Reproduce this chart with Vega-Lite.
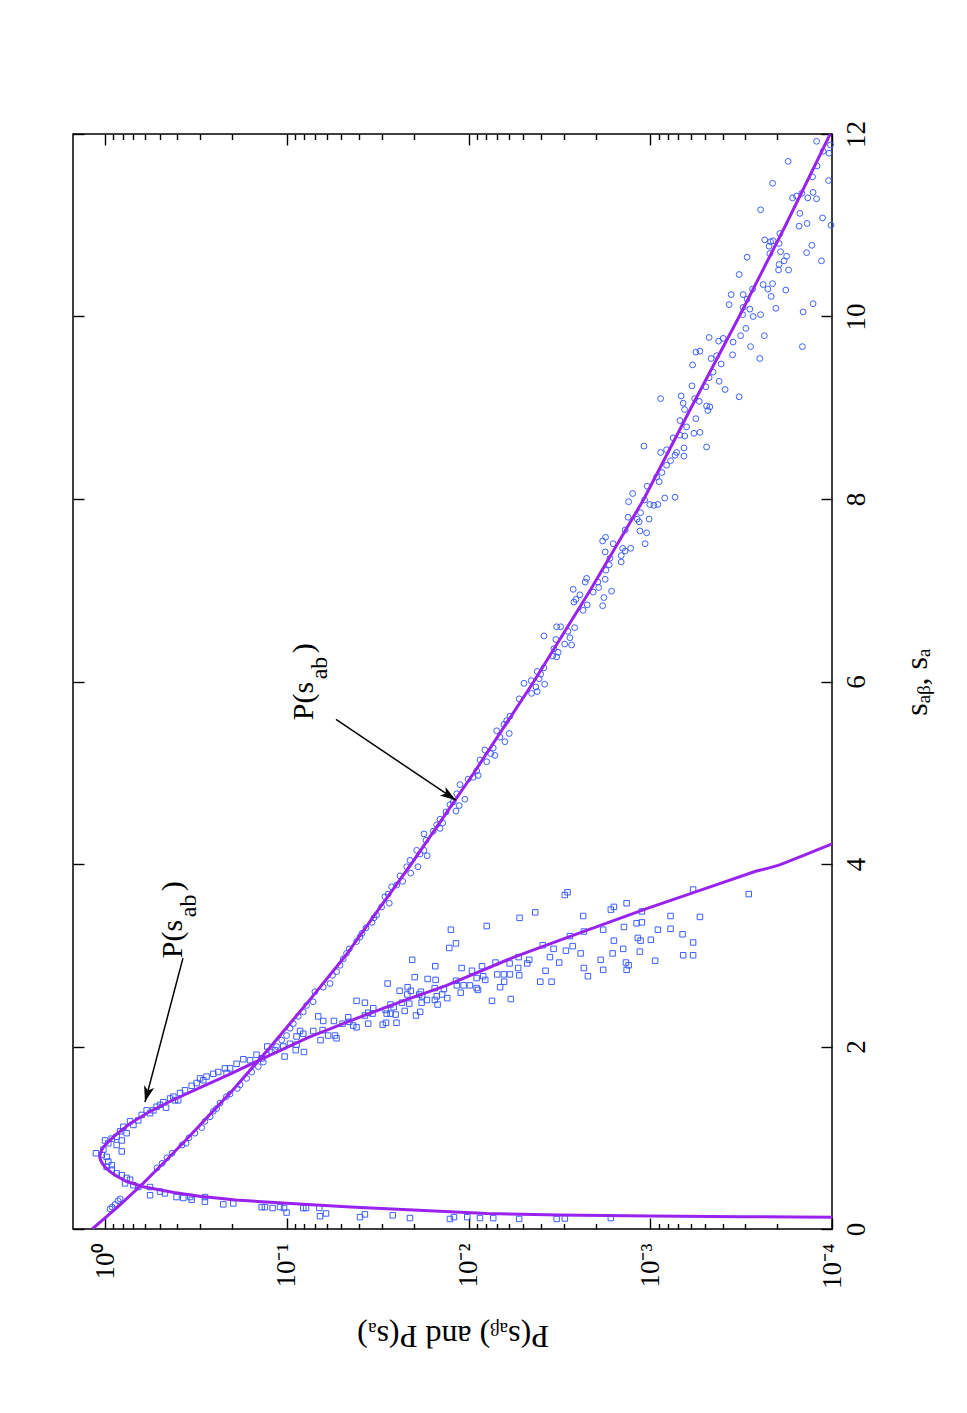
{
"$schema":"https://vega.github.io/schema/vega-lite/v6.json",
"width":759,"height":1095,
"autosize":{"type":"none"},
"padding":{"left":73,"top":134,"right":135,"bottom":184},
"background":"white",
"config":{"view":{"stroke":"black","strokeWidth":1.5},"font":"Liberation Serif",
 "axis":{"grid":false,"domain":false,"tickColor":"black","tickWidth":1.4,"labelColor":"black","titleColor":"black","labelFont":"Liberation Serif","titleFont":"Liberation Serif","labelFontSize":27,"titleFontSize":32,"titleFontWeight":"normal"}},
"datasets":{
"circles":[
{"s":11.92,"P":1.216e-4},{"s":11.88,"P":1.019e-4},{"s":11.81,"P":1.119e-4},{"s":11.79,"P":1.038e-4},{"s":11.70,"P":1.742e-4},{"s":11.65,"P":1.208e-4},{"s":11.53,"P":1.28e-4},{"s":11.49,"P":1.045e-4},{"s":11.46,"P":2.123e-4},{"s":11.30,"P":1.648e-4},{"s":11.32,"P":1.567e-4},{"s":11.35,"P":1.466e-4},{"s":11.30,"P":1.359e-4},{"s":11.36,"P":1.271e-4},{"s":11.29,"P":1.216e-4},{"s":11.17,"P":2.472e-4},{"s":11.13,"P":1.503e-4},{"s":11.08,"P":1.127e-4},{"s":10.99,"P":1.517e-4},{"s":11.02,"P":1.371e-4},{"s":11.00,"P":1.012e-4},{"s":10.91,"P":1.936e-4},{"s":10.84,"P":2.344e-4},{"s":10.82,"P":2.178e-4},{"s":10.83,"P":2.109e-4},{"s":10.80,"P":1.954e-4},{"s":10.77,"P":2.218e-4},{"s":10.78,"P":1.291e-4},{"s":10.71,"P":1.919e-4},{"s":10.70,"P":1.380e-4},{"s":10.69,"P":2.198e-4},{"s":10.65,"P":2.931e-4},{"s":10.66,"P":1.778e-4},{"s":10.61,"P":1.832e-4},{"s":10.61,"P":1.143e-4},{"s":10.57,"P":1.954e-4},{"s":10.51,"P":1.968e-4},{"s":10.51,"P":1.734e-4},{"s":10.46,"P":3.243e-4},{"s":10.35,"P":2.393e-4},{"s":10.36,"P":2.123e-4},{"s":10.30,"P":2.254e-4},{"s":10.29,"P":1.795e-4},{"s":10.30,"P":2.735e-4},{"s":10.24,"P":3.589e-4},{"s":10.24,"P":3.083e-4},{"s":10.22,"P":2.163e-4},{"s":10.13,"P":3.681e-4},{"s":10.19,"P":2.931e-4},{"s":10.10,"P":3.083e-4},{"s":10.08,"P":2.831e-4},{"s":10.14,"P":1.271e-4},{"s":10.09,"P":2.037e-4},{"s":10.02,"P":3.105e-4},{"s":10.00,"P":2.716e-4},{"s":10.02,"P":2.472e-4},{"s":10.05,"P":1.442e-4},{"s":9.87,"P":2.979e-4},{"s":9.77,"P":4.742e-4},{"s":9.73,"P":4.207e-4},{"s":9.76,"P":3.972e-4},{"s":9.79,"P":3.184e-4},{"s":9.79,"P":2.355e-4},{"s":9.72,"P":3.5e-4},{"s":9.67,"P":2.805e-4},{"s":9.67,"P":1.455e-4},{"s":9.61,"P":5.61e-4},{"s":9.62,"P":5.33e-4},{"s":9.57,"P":4.315e-4},{"s":9.58,"P":3.524e-4},{"s":9.54,"P":4.624e-4},{"s":9.54,"P":2.495e-4},{"s":9.47,"P":5.85e-4},{"s":9.48,"P":4.074e-4},{"s":9.39,"P":4.508e-4},{"s":9.33,"P":4.742e-4},{"s":9.29,"P":4.178e-4},{"s":9.24,"P":5.90e-4},{"s":9.23,"P":4.943e-4},{"s":9.20,"P":3.873e-4},{"s":9.10,"P":8.77e-4},{"s":9.13,"P":6.76e-4},{"s":9.10,"P":5.70e-4},{"s":9.12,"P":3.243e-4},{"s":9.05,"P":6.59e-4},{"s":9.07,"P":5.38e-4},{"s":9.02,"P":4.898e-4},{"s":9.01,"P":4.70e-4},{"s":8.98,"P":6.47e-4},{"s":8.97,"P":4.82e-4},{"s":8.86,"P":6.87e-4},{"s":8.88,"P":5.61e-4},{"s":8.79,"P":6.31e-4},{"s":8.70,"P":6.87e-4},{"s":8.69,"P":6.46e-4},{"s":8.72,"P":5.75e-4},{"s":8.73,"P":5.33e-4},{"s":8.67,"P":7.48e-4},{"s":8.58,"P":1.084e-3},{"s":8.56,"P":6.52e-4},{"s":8.57,"P":4.898e-4},{"s":8.54,"P":8.13e-4},{"s":8.51,"P":8.77e-4},{"s":8.51,"P":7.16e-4},{"s":8.48,"P":7.30e-4},{"s":8.47,"P":6.53e-4},{"s":8.42,"P":7.73e-4},{"s":8.37,"P":8.13e-4},{"s":8.29,"P":8.63e-4},{"s":8.24,"P":9.23e-4},{"s":8.19,"P":8.93e-4},{"s":8.14,"P":1.04e-3},{"s":8.06,"P":1.25e-3},{"s":7.97,"P":1.315e-3},{"s":7.99,"P":1.074e-3},{"s":8.01,"P":8.32e-4},{"s":8.02,"P":7.30e-4},{"s":7.94,"P":1.005e-3},{"s":7.93,"P":9.55e-4},{"s":7.94,"P":9.08e-4},{"s":7.85,"P":1.13e-3},{"s":7.80,"P":1.324e-3},{"s":7.78,"P":1.18e-3},{"s":7.78,"P":1.014e-3},{"s":7.75,"P":1.151e-3},{"s":7.66,"P":1.374e-3},{"s":7.65,"P":1.14e-3},{"s":7.63,"P":1.047e-3},{"s":7.54,"P":1.828e-3},{"s":7.58,"P":1.762e-3},{"s":7.51,"P":1.60e-3},{"s":7.51,"P":1.067e-3},{"s":7.46,"P":1.419e-3},{"s":7.46,"P":1.282e-3},{"s":7.42,"P":1.77e-3},{"s":7.43,"P":1.374e-3},{"s":7.38,"P":1.445e-3},{"s":7.35,"P":1.667e-3},{"s":7.31,"P":1.445e-3},{"s":7.28,"P":1.683e-3},{"s":7.22,"P":1.754e-3},{"s":7.12,"P":1.77e-3},{"s":7.13,"P":2.239e-3},{"s":7.09,"P":2.28e-3},{"s":7.09,"P":1.941e-3},{"s":7.03,"P":1.923e-3},{"s":7.01,"P":2.655e-3},{"s":6.95,"P":2.438e-3},{"s":6.98,"P":2.061e-3},{"s":6.99,"P":1.633e-3},{"s":6.92,"P":1.80e-3},{"s":6.90,"P":2.564e-3},{"s":6.87,"P":2.63e-3},{"s":6.84,"P":2.223e-3},{"s":6.78,"P":2.339e-3},{"s":6.83,"P":1.828e-3},{"s":6.60,"P":3.273e-3},{"s":6.60,"P":3.112e-3},{"s":6.59,"P":2.606e-3},{"s":6.55,"P":2.838e-3},{"s":6.50,"P":3.846e-3},{"s":6.46,"P":3.304e-3},{"s":6.48,"P":2.767e-3},{"s":6.41,"P":2.958e-3},{"s":6.40,"P":2.71e-3},{"s":6.36,"P":3.388e-3},{"s":6.32,"P":3.213e-3},{"s":6.28,"P":3.443e-3},{"s":6.27,"P":3.273e-3},{"s":6.15,"P":3.846e-3},{"s":6.11,"P":4.188e-3},{"s":6.08,"P":4.009e-3},{"s":6.03,"P":4.083e-3},{"s":5.98,"P":4.955e-3},{"s":6.01,"P":4.519e-3},{"s":5.94,"P":4.256e-3},{"s":5.97,"P":3.811e-3},{"s":5.89,"P":4.188e-3},{"s":5.87,"P":4.498e-3},{"s":5.81,"P":5.26e-3},{"s":5.62,"P":5.916e-3},{"s":5.57,"P":6.166e-3},{"s":5.53,"P":6.383e-3},{"s":5.43,"P":5.97e-3},{"s":5.46,"P":7.0e-3},{"s":5.39,"P":6.714e-3},{"s":5.34,"P":6.31e-3},{"s":5.27,"P":7.31e-3},{"s":5.25,"P":8.13e-3},{"s":5.21,"P":7.55e-3},{"s":5.19,"P":7.16e-3},{"s":5.14,"P":8.65e-3},{"s":5.12,"P":7.94e-3},{"s":5.02,"P":9.02e-3},{"s":4.95,"P":9.42e-3},{"s":4.93,"P":1.005e-2},{"s":4.97,"P":8.85e-3},{"s":4.87,"P":1.114e-2},{"s":4.71,"P":1.047e-2},{"s":4.77,"P":1.161e-2},{"s":4.68,"P":1.213e-2},{"s":4.64,"P":1.125e-2},{"s":4.65,"P":1.265e-2},{"s":4.58,"P":1.172e-2},{"s":4.57,"P":1.33e-2},{"s":4.49,"P":1.435e-2},{"s":4.45,"P":1.387e-2},{"s":4.43,"P":1.496e-2},{"s":4.36,"P":1.563e-2},{"s":4.33,"P":1.758e-2},{"s":4.39,"P":1.435e-2},{"s":4.26,"P":1.714e-2},{"s":4.15,"P":1.928e-2},{"s":4.15,"P":1.758e-2},{"s":4.11,"P":1.849e-2},{"s":4.09,"P":1.687e-2},{"s":4.04,"P":2.099e-2},{"s":3.97,"P":1.897e-2},{"s":3.97,"P":2.188e-2},{"s":3.87,"P":2.382e-2},{"s":3.90,"P":2.080e-2},{"s":3.81,"P":2.301e-2},{"s":3.75,"P":2.649e-2},{"s":3.77,"P":2.483e-2},{"s":3.67,"P":2.767e-2},{"s":3.64,"P":2.884e-2},{"s":3.57,"P":2.729e-2},{"s":3.53,"P":3.006e-2},{"s":3.44,"P":3.206e-2},{"s":3.41,"P":3.311e-2},{"s":3.36,"P":3.396e-2},{"s":3.30,"P":3.664e-2},{"s":3.24,"P":3.855e-2},{"s":3.20,"P":3.954e-2},{"s":3.15,"P":4.13e-2},{"s":3.07,"P":4.53e-2},{"s":3.02,"P":4.69e-2},{"s":2.96,"P":4.89e-2},{"s":2.89,"P":5.09e-2},{"s":2.82,"P":5.32e-2},{"s":2.78,"P":5.60e-2},{"s":2.69,"P":5.78e-2},{"s":2.65,"P":6.30e-2},{"s":2.60,"P":7.0e-2},{"s":2.49,"P":7.15e-2},{"s":2.45,"P":7.78e-2},{"s":2.38,"P":8.11e-2},{"s":2.33,"P":8.65e-2},{"s":2.25,"P":9.20e-2},{"s":2.20,"P":9.60e-2},{"s":2.12,"P":0.1002},{"s":2.07,"P":0.1067},{"s":2.00,"P":0.1138},{"s":1.94,"P":0.1211},{"s":1.91,"P":0.1291},{"s":1.83,"P":0.1346},{"s":1.78,"P":0.1435},{"s":1.72,"P":0.156},{"s":1.65,"P":0.1663},{"s":1.58,"P":0.1807},{"s":1.54,"P":0.1871},{"s":1.48,"P":0.205},{"s":1.45,"P":0.215},{"s":1.38,"P":0.2328},{"s":1.32,"P":0.2432},{"s":1.29,"P":0.2535},{"s":1.23,"P":0.2642},{"s":1.18,"P":0.2818},{"s":1.11,"P":0.2938},{"s":1.05,"P":0.32},{"s":1.0,"P":0.345},{"s":0.94,"P":0.3581},{"s":0.92,"P":0.3767},{"s":0.83,"P":0.4276},{"s":0.78,"P":0.456},{"s":0.72,"P":0.4853},{"s":0.67,"P":0.5176},{"s":0.33,"P":0.826},{"s":0.31,"P":0.847},{"s":0.27,"P":0.881},{"s":0.24,"P":0.914},{"s":0.22,"P":0.938}
],
"squares":[
{"s":3.66,"P":2.951e-3},{"s":3.69,"P":2.851e-3},{"s":3.72,"P":5.81e-4},{"s":3.67,"P":2.871e-4},{"s":3.47,"P":4.295e-3},{"s":3.41,"P":5.236e-3},{"s":3.32,"P":7.94e-3},{"s":3.28,"P":1.25e-2},{"s":3.50,"P":1.648e-3},{"s":3.53,"P":1.585e-3},{"s":3.57,"P":1.349e-3},{"s":3.43,"P":2.339e-3},{"s":3.48,"P":1.112e-3},{"s":3.43,"P":7.73e-4},{"s":3.42,"P":5.33e-4},{"s":3.35,"P":1.189e-3},{"s":3.36,"P":1.112e-3},{"s":3.31,"P":1.396e-3},{"s":3.28,"P":9.08e-4},{"s":3.29,"P":7.73e-4},{"s":3.26,"P":2.317e-3},{"s":3.28,"P":1.816e-3},{"s":3.23,"P":6.64e-4},{"s":3.21,"P":2.767e-3},{"s":3.13,"P":1.172e-2},{"s":3.08,"P":1.276e-2},{"s":3.11,"P":3.908e-3},{"s":3.07,"P":3.404e-3},{"s":3.10,"P":2.673e-3},{"s":3.05,"P":2.911e-3},{"s":3.16,"P":1.585e-3},{"s":3.19,"P":1.17e-3},{"s":3.16,"P":1.13e-3},{"s":3.17,"P":9.93e-4},{"s":3.14,"P":5.81e-4},{"s":3.07,"P":1.409e-3},{"s":3.04,"P":1.14e-3},{"s":3.02,"P":2.415e-3},{"s":3.02,"P":1.611e-3},{"s":3.00,"P":6.59e-4},{"s":3.00,"P":5.81e-4},{"s":2.98,"P":3.565e-3},{"s":2.98,"P":5.30e-3},{"s":2.95,"P":4.634e-3},{"s":2.95,"P":2.042e-2},{"s":2.92,"P":3.17e-3},{"s":2.95,"P":1.875e-3},{"s":2.94,"P":9.40e-4},{"s":2.92,"P":1.361e-3},{"s":2.89,"P":1.315e-3},{"s":2.92,"P":7.10e-3},{"s":2.91,"P":5.94e-3},{"s":2.91,"P":4.753e-3},{"s":2.88,"P":1.524e-2},{"s":2.86,"P":1.091e-2},{"s":2.83,"P":9.57e-3},{"s":2.88,"P":8.43e-3},{"s":2.86,"P":5.33e-3},{"s":2.86,"P":2.317e-3},{"s":2.84,"P":1.816e-3},{"s":2.84,"P":1.349e-3},{"s":2.83,"P":3.767e-3},{"s":2.76,"P":1.977e-2},{"s":2.74,"P":1.679e-2},{"s":2.73,"P":1.517e-2},{"s":2.79,"P":6.95e-3},{"s":2.79,"P":6.383e-3},{"s":2.79,"P":5.916e-3},{"s":2.78,"P":5.26e-3},{"s":2.77,"P":8.30e-3},{"s":2.75,"P":9.02e-3},{"s":2.73,"P":8.09e-3},{"s":2.77,"P":2.203e-3},{"s":2.71,"P":4.027e-3},{"s":2.71,"P":3.491e-3},{"s":2.72,"P":1.172e-2},{"s":2.71,"P":6.368e-3},{"s":2.69,"P":2.786e-2},{"s":2.67,"P":1.064e-2},{"s":2.67,"P":9.82e-3},{"s":2.67,"P":1.159e-2},{"s":2.65,"P":6.70e-3},{"s":2.64,"P":1.535e-2},{"s":2.65,"P":2.163e-2},{"s":2.64,"P":9.02e-3},{"s":2.62,"P":8.87e-3},{"s":2.63,"P":1.365e-2},{"s":2.61,"P":2.393e-2},{"s":2.61,"P":2.075e-2},{"s":2.60,"P":1.828e-2},{"s":2.57,"P":2.173e-2},{"s":2.57,"P":1.396e-2},{"s":2.59,"P":1.104e-2},{"s":2.57,"P":1.866e-2},{"s":2.55,"P":1.799e-2},{"s":2.55,"P":1.496e-2},{"s":2.53,"P":1.309e-2},{"s":2.51,"P":1.694e-2},{"s":2.51,"P":1.531e-2},{"s":2.50,"P":7.43e-3},{"s":2.52,"P":5.848e-3},{"s":2.48,"P":1.811e-2},{"s":2.46,"P":2.685e-2},{"s":2.48,"P":2.323e-2},{"s":2.47,"P":2.118e-2},{"s":2.46,"P":1.479e-2},{"s":2.43,"P":2.582e-2},{"s":2.40,"P":2.858e-2},{"s":2.39,"P":2.244e-2},{"s":2.38,"P":1.845e-2},{"s":2.36,"P":2.818e-2},{"s":2.36,"P":2.685e-2},{"s":2.35,"P":2.518e-2},{"s":2.34,"P":1.945e-2},{"s":2.26,"P":2.844e-2},{"s":2.26,"P":2.489e-2},{"s":2.24,"P":2.965e-2},{"s":2.50,"P":4.13e-2},{"s":2.48,"P":3.715e-2},{"s":2.42,"P":3.342e-2},{"s":2.37,"P":3.565e-2},{"s":2.36,"P":3.373e-2},{"s":2.34,"P":3.715e-2},{"s":2.33,"P":6.71e-2},{"s":2.28,"P":6.30e-2},{"s":2.28,"P":5.50e-2},{"s":2.32,"P":4.59e-2},{"s":2.27,"P":4.53e-2},{"s":2.25,"P":4.93e-2},{"s":2.23,"P":4.31e-2},{"s":2.21,"P":4.13e-2},{"s":2.25,"P":3.565e-2},{"s":2.17,"P":7.15e-2},{"s":2.18,"P":6.35e-2},{"s":2.12,"P":5.92e-2},{"s":2.12,"P":5.43e-2},{"s":2.09,"P":5.32e-2},{"s":2.17,"P":8.45e-2},{"s":2.14,"P":8.11e-2},{"s":2.11,"P":8.83e-2},{"s":2.07,"P":6.52e-2},{"s":2.03,"P":9.60e-2},{"s":2.00,"P":0.1045},{"s":2.02,"P":8.83e-2},{"s":1.94,"P":8.04e-2},{"s":1.96,"P":8.93e-2},{"s":1.89,"P":0.1028},{"s":2.00,"P":0.128},{"s":1.96,"P":0.1161},{"s":1.91,"P":0.1466},{"s":1.87,"P":0.1374},{"s":1.85,"P":0.1592},{"s":1.86,"P":0.1734},{"s":1.81,"P":0.1888},{"s":1.76,"P":0.2051},{"s":1.76,"P":0.2188},{"s":1.72,"P":0.2382},{"s":1.70,"P":0.2535},{"s":1.67,"P":0.2761},{"s":1.65,"P":0.30},{"s":1.60,"P":0.3133},{"s":1.57,"P":0.3334},{"s":1.52,"P":0.3631},{"s":1.49,"P":0.3864},{"s":1.45,"P":0.4207},{"s":1.43,"P":0.4385},{"s":1.39,"P":0.4775},{"s":1.36,"P":0.4977},{"s":1.30,"P":0.542},{"s":1.33,"P":0.4613},{"s":1.41,"P":0.3954},{"s":1.63,"P":0.2877},{"s":1.71,"P":0.2143},{"s":1.41,"P":0.412},{"s":1.34,"P":0.52},{"s":1.30,"P":0.590},{"s":1.27,"P":0.565},{"s":1.25,"P":0.628},{"s":1.19,"P":0.656},{"s":1.18,"P":0.728},{"s":1.14,"P":0.698},{"s":1.12,"P":0.793},{"s":1.07,"P":0.826},{"s":1.05,"P":0.760},{"s":1.01,"P":0.863},{"s":0.99,"P":0.918},{"s":0.97,"P":0.809},{"s":0.97,"P":1.0},{"s":0.94,"P":0.959},{"s":0.92,"P":0.863},{"s":0.85,"P":0.809},{"s":0.87,"P":1.021},{"s":0.83,"P":1.122},{"s":0.81,"P":1.042},{"s":0.79,"P":0.979},{"s":0.74,"P":0.959},{"s":0.70,"P":0.918},{"s":0.68,"P":0.979},{"s":0.65,"P":0.918},{"s":0.61,"P":0.863},{"s":0.59,"P":0.809},{"s":0.56,"P":0.760},{"s":0.54,"P":0.728},{"s":0.50,"P":0.776},{"s":0.48,"P":0.698},{"s":0.46,"P":0.656},{"s":0.46,"P":0.565},{"s":0.37,"P":0.565},{"s":0.41,"P":0.498},{"s":0.39,"P":0.468},{"s":0.35,"P":0.404},{"s":0.34,"P":0.371},{"s":0.35,"P":0.340},{"s":0.35,"P":0.282},{"s":0.30,"P":0.282},{"s":0.27,"P":0.2234},{"s":0.28,"P":0.1968},{"s":0.32,"P":0.3334},{"s":0.24,"P":0.1374},{"s":0.24,"P":0.1318},{"s":0.23,"P":0.1197},{"s":0.24,"P":0.1089},{"s":0.23,"P":0.1035},{"s":0.18,"P":0.1002},{"s":0.23,"P":8.11e-2},{"s":0.23,"P":7.83e-2},{"s":0.23,"P":6.62e-2},{"s":0.14,"P":6.56e-2},{"s":0.17,"P":6.08e-2},{"s":0.13,"P":3.954e-2},{"s":0.16,"P":3.715e-2},{"s":0.15,"P":2.612e-2},{"s":0.12,"P":2.099e-2},{"s":0.11,"P":1.265e-2},{"s":0.13,"P":1.202e-2},{"s":0.13,"P":1.016e-2},{"s":0.12,"P":8.65e-3},{"s":0.12,"P":7.31e-3},{"s":0.11,"P":5.26e-3},{"s":0.11,"P":3.273e-3},{"s":0.115,"P":2.95e-3},{"s":0.12,"P":1.648e-3}
],
"curveA":[
{"s":0,"P":1.175},{"s":0.25,"P":0.841},{"s":0.5,"P":0.617},{"s":0.75,"P":0.462},{"s":1.0,"P":0.349},{"s":1.5,"P":0.203},{"s":2.0,"P":0.1225},{"s":2.5,"P":0.0755},{"s":3.0,"P":0.0473},{"s":3.5,"P":0.0313},{"s":4.0,"P":0.02065},{"s":5.0,"P":0.00933},{"s":6.0,"P":0.00437},{"s":7.0,"P":0.00214},{"s":8.0,"P":0.001084},{"s":9.0,"P":0.000596},{"s":10.0,"P":0.000324},{"s":11.0,"P":0.000180},{"s":12.0,"P":0.0001023}
],
"curveB":[
{"s":0.128,"P":0.0001},{"s":0.135,"P":0.000316},{"s":0.143,"P":0.001},{"s":0.153,"P":0.00316},{"s":0.17,"P":0.00794},{"s":0.208,"P":0.0201},{"s":0.24,"P":0.0447},{"s":0.281,"P":0.1},{"s":0.318,"P":0.1905},{"s":0.36,"P":0.302},{"s":0.40,"P":0.417},{"s":0.463,"P":0.617},{"s":0.52,"P":0.759},{"s":0.573,"P":0.851},{"s":0.61,"P":0.912},{"s":0.67,"P":0.989},{"s":0.72,"P":1.035},{"s":0.76,"P":1.062},{"s":0.80,"P":1.067},{"s":0.85,"P":1.052},{"s":0.90,"P":1.019},{"s":0.975,"P":0.938},{"s":1.05,"P":0.851},{"s":1.158,"P":0.724},{"s":1.28,"P":0.575},{"s":1.40,"P":0.437},{"s":1.52,"P":0.324},{"s":1.70,"P":0.204},{"s":1.87,"P":0.135},{"s":2.1,"P":0.0759},{"s":2.29,"P":0.0437},{"s":2.5,"P":0.0229},{"s":2.67,"P":0.01318},{"s":2.98,"P":0.00562},{"s":3.25,"P":0.0024},{"s":3.51,"P":0.001047},{"s":3.75,"P":0.000468},{"s":3.92,"P":0.000263},{"s":3.96,"P":0.000219},{"s":3.99,"P":0.000194},{"s":4.10,"P":0.000141},{"s":4.22,"P":0.0001}
],
"annot":[{"id":"A1","s":5.575,"P":0.07178},{"id":"A2","s":2.968,"P":0.3771}],
"arrows":[{"id":"A1","s":5.586,"P":0.0536,"s2":4.699,"P2":0.01173},{"id":"A2","s":2.968,"P":0.3724,"s2":1.391,"P2":0.6026}]
},
"resolve":{"axis":{"x":"independent","y":"independent"}},
"layer":[
{"data":{"name":"circles"},
 "mark":{"type":"point","shape":"circle","filled":false,"size":34,"color":"#3358ff","strokeWidth":1,"opacity":0.95},
 "encoding":{
  "x":{"field":"P","type":"quantitative","scale":{"type":"log","domain":[0.0001,1.5],"reverse":true,"nice":false},
       "axis":{"orient":"top","values":[1,0.1,0.01,0.001,0.0001],"labels":false,"tickSize":-11,"title":null}},
  "y":{"field":"s","type":"quantitative","scale":{"domain":[0,12],"nice":false,"zero":false},
       "axis":{"orient":"right","values":[0,2,4,6,8,10,12],"tickSize":-11,"labelAngle":270,"labelAlign":"center","labelBaseline":"top","labelPadding":22,"title":"sₐᵦ, sₐ","titleAngle":270,"titleBaseline":"top","titlePadding":32}}}},
{"data":{"name":"squares"},
 "mark":{"type":"point","shape":"square","filled":false,"size":30,"color":"#3358ff","strokeWidth":1,"opacity":0.95},
 "encoding":{
  "x":{"field":"P","type":"quantitative","scale":{"type":"log","domain":[0.0001,1.5],"reverse":true,"nice":false},
       "axis":{"orient":"top","values":[0.0002,0.0003,0.0004,0.0005,0.0006,0.0007,0.0008,0.0009,0.002,0.003,0.004,0.005,0.006,0.007,0.008,0.009,0.02,0.03,0.04,0.05,0.06,0.07,0.08,0.09,0.2,0.3,0.4,0.5,0.6,0.7,0.8,0.9],"labels":false,"tickSize":-5.5,"title":null}},
  "y":{"field":"s","type":"quantitative","scale":{"domain":[0,12],"nice":false,"zero":false},
       "axis":{"orient":"left","values":[0,2,4,6,8,10,12],"labels":false,"tickSize":-11,"title":null}}}},
{"data":{"name":"curveA"},
 "mark":{"type":"line","color":"#9a22ee","strokeWidth":3,"clip":true},
 "encoding":{
  "x":{"field":"P","type":"quantitative","scale":{"type":"log","domain":[0.0001,1.5],"reverse":true,"nice":false},
       "axis":{"orient":"bottom","values":[1,0.1,0.01,0.001,0.0001],"tickSize":-11,"labelAngle":270,"labelAlign":"right","labelBaseline":"middle","labelPadding":25,
               "labelExpr":"datum.value >= 0.5 ? '10⁰' : datum.value >= 0.05 ? '10⁻¹' : datum.value >= 0.005 ? '10⁻²' : datum.value >= 0.0005 ? '10⁻³' : '10⁻⁴'",
               "title":"P(sₐᵦ) and P(sₐ)","titleAngle":180,"titleBaseline":"bottom","titlePadding":30}},
  "y":{"field":"s","type":"quantitative","scale":{"domain":[0,12],"nice":false,"zero":false},"axis":null},
  "order":{"field":"s","type":"quantitative"}}},
{"data":{"name":"curveB"},
 "mark":{"type":"line","color":"#9a22ee","strokeWidth":3,"clip":true},
 "encoding":{
  "x":{"field":"P","type":"quantitative","scale":{"type":"log","domain":[0.0001,1.5],"reverse":true,"nice":false},
       "axis":{"orient":"bottom","values":[0.0002,0.0003,0.0004,0.0005,0.0006,0.0007,0.0008,0.0009,0.002,0.003,0.004,0.005,0.006,0.007,0.008,0.009,0.02,0.03,0.04,0.05,0.06,0.07,0.08,0.09,0.2,0.3,0.4,0.5,0.6,0.7,0.8,0.9],"labels":false,"tickSize":-5.5,"title":null}},
  "y":{"field":"s","type":"quantitative","scale":{"domain":[0,12],"nice":false,"zero":false},"axis":null},
  "order":{"field":"s","type":"quantitative"}}},
{"data":{"name":"arrows"},
 "mark":{"type":"rule","color":"black","strokeWidth":1.5},
 "encoding":{"x":{"field":"P","type":"quantitative","axis":null},"y":{"field":"s","type":"quantitative","axis":null},
   "x2":{"field":"P2"},"y2":{"field":"s2"}}},
{"data":{"name":"arrows"},"transform":[{"filter":"datum.id == 'A1'"}],
 "mark":{"type":"point","shape":"M0,0L-1,-0.32L-0.75,0L-1,0.32Z","filled":true,"color":"black","opacity":1,"size":1024,"angle":34},
 "encoding":{"x":{"field":"P2","type":"quantitative","axis":null},"y":{"field":"s2","type":"quantitative","axis":null}}},
{"data":{"name":"arrows"},"transform":[{"filter":"datum.id == 'A2'"}],
 "mark":{"type":"point","shape":"M0,0L-1,-0.32L-0.75,0L-1,0.32Z","filled":true,"color":"black","opacity":1,"size":1024,"angle":104.8},
 "encoding":{"x":{"field":"P2","type":"quantitative","axis":null},"y":{"field":"s2","type":"quantitative","axis":null}}},
{"data":{"name":"annot"},
 "mark":{"type":"text","angle":270,"align":"left","baseline":"alphabetic","font":"Liberation Serif","fontSize":30,"color":"black"},
 "encoding":{"x":{"field":"P","type":"quantitative","axis":null},"y":{"field":"s","type":"quantitative","axis":null},"text":{"value":"P(s"}}},
{"data":{"name":"annot"},
 "mark":{"type":"text","angle":270,"align":"left","baseline":"alphabetic","font":"Liberation Serif","fontSize":24,"color":"black","dx":41,"dy":14},
 "encoding":{"x":{"field":"P","type":"quantitative","axis":null},"y":{"field":"s","type":"quantitative","axis":null},"text":{"value":"ab"}}},
{"data":{"name":"annot"},
 "mark":{"type":"text","angle":270,"align":"left","baseline":"alphabetic","font":"Liberation Serif","fontSize":30,"color":"black","dx":67},
 "encoding":{"x":{"field":"P","type":"quantitative","axis":null},"y":{"field":"s","type":"quantitative","axis":null},"text":{"value":")"}}}
]
}
